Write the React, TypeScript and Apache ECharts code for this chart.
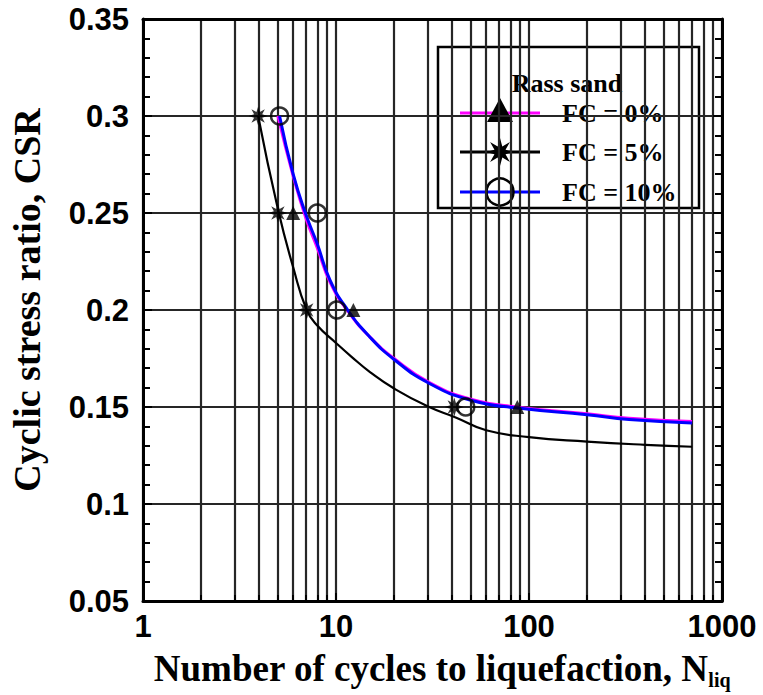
import React, { useEffect, useRef } from "react";
import * as echarts from "echarts";

// Axis ticks
const cycleTickLabels = ["1", "10", "100", "1000"];
const csrMin = 0.05;
const csrMax = 0.35;
const csrStep = 0.05;

// Cyclic triaxial test results: number of cycles and CSR
const fc0Cycles = [6, 12.3, 87];
const fc0Csr = [0.25, 0.2, 0.15];
const fc5Cycles = [3.95, 5, 7.05, 41];
const fc5Csr = [0.3, 0.25, 0.2, 0.15];
const fc10Cycles = [5.1, 8, 10.1, 47];
const fc10Csr = [0.3, 0.25, 0.2, 0.15];

// Trend curves through each data set
const fc0CurveCycles = [5, 6, 7, 8, 9.3, 11.5, 15, 20, 30, 50, 90, 200, 330, 700];
const fc0CurveCsr = [0.3, 0.269, 0.247, 0.232, 0.2145, 0.1995, 0.186, 0.175, 0.163, 0.154, 0.1498, 0.1465, 0.1442, 0.1425];
const fc5CurveCycles = [3.95, 5, 6, 7.05, 8, 10, 12, 15, 20, 30, 42, 60, 100, 200, 400, 700];
const fc5CurveCsr = [0.3, 0.252, 0.222, 0.2, 0.192, 0.183, 0.176, 0.168, 0.1595, 0.1502, 0.1445, 0.138, 0.1345, 0.1322, 0.1305, 0.1295];
const fc10CurveCycles = [5.1, 6, 7, 8, 9.3, 11.5, 15, 20, 30, 50, 90, 200, 330, 700];
const fc10CurveCsr = [0.3, 0.27, 0.249, 0.234, 0.2155, 0.2, 0.186, 0.1745, 0.1625, 0.1535, 0.1493, 0.146, 0.1435, 0.1418];

const zip = (xs: number[], ys: number[]) => xs.map((x, i) => [x, ys[i]]);

const SANS = "Liberation Sans, Arial, sans-serif";
const SERIF = "Liberation Serif, Times New Roman, serif";

// Eight-pointed star outline
function starPoints(cx: number, cy: number, R: number, r: number): number[][] {
  const pts: number[][] = [];
  for (let k = 0; k < 16; k++) {
    const a = (k * Math.PI) / 8;
    const rad = k % 2 === 0 ? R : r;
    pts.push([cx + rad * Math.sin(a), cy - rad * Math.cos(a)]);
  }
  return pts;
}
const starSymbol =
  "path://" +
  starPoints(10, 10, 10, 4.6)
    .map((p, i) => (i === 0 ? "M" : "L") + p[0].toFixed(2) + " " + p[1].toFixed(2))
    .join(" ") +
  " Z";

const GRID_COLOR = "#262626";

const option: any = {
  animation: false,
  backgroundColor: "#fff",
  grid: { left: 143, right: 41, top: 19, bottom: 94, containLabel: false, outerBoundsMode: "none" },
  xAxis: [
    {
      type: "log",
      logBase: 10,
      min: 1,
      max: 1000,
      position: "bottom",
      axisLine: { show: true, onZero: false, lineStyle: { color: "#000", width: 3 } },
      axisTick: { show: true, inside: true, length: 8, lineStyle: { color: "#000", width: 2 } },
      minorTick: { show: true, splitNumber: 9, length: 6, lineStyle: { color: "#000", width: 2 } },
      splitLine: { show: true, lineStyle: { color: GRID_COLOR, width: 2.2 } },
      minorSplitLine: { show: true, lineStyle: { color: GRID_COLOR, width: 2.2 } },
      axisLabel: {
        color: "#000",
        fontFamily: SANS,
        fontWeight: "bold",
        fontSize: 31,
        margin: 10,
        formatter: (v: number) => cycleTickLabels[Math.round(Math.log10(v))],
      },
    },
    {
      type: "log",
      logBase: 10,
      min: 1,
      max: 1000,
      position: "top",
      axisLine: { show: true, onZero: false, lineStyle: { color: "#000", width: 3 } },
      axisTick: { show: false },
      axisLabel: { show: false },
      splitLine: { show: false },
    },
  ],
  yAxis: [
    {
      type: "value",
      min: csrMin,
      max: csrMax,
      interval: csrStep,
      position: "left",
      axisLine: { show: true, lineStyle: { color: "#000", width: 3 } },
      axisTick: { show: true, inside: true, length: 9, lineStyle: { color: "#000", width: 2 } },
      minorTick: { show: true, splitNumber: 5, length: 7, lineStyle: { color: "#000", width: 2 } },
      splitLine: { show: true, lineStyle: { color: GRID_COLOR, width: 2.2 } },
      axisLabel: {
        color: "#000",
        fontFamily: SANS,
        fontWeight: "bold",
        fontSize: 31,
        margin: 14,
        formatter: (v: number) => String(+v.toFixed(2)),
      },
    },
    {
      type: "value",
      min: csrMin,
      max: csrMax,
      interval: csrStep,
      position: "right",
      axisLine: { show: true, lineStyle: { color: "#000", width: 3 } },
      axisTick: { show: true, inside: true, length: 9, lineStyle: { color: "#000", width: 2 } },
      minorTick: { show: true, splitNumber: 5, length: 7, lineStyle: { color: "#000", width: 2 } },
      splitLine: { show: false },
      axisLabel: { show: false },
    },
  ],
  series: [
    {
      type: "line",
      name: "FC = 5% curve",
      data: zip(fc5CurveCycles, fc5CurveCsr),
      smooth: true,
      showSymbol: false,
      symbol: "none",
      lineStyle: { color: "#000", width: 2.2 },
      z: 3,
    },
    {
      type: "line",
      name: "FC = 0% curve",
      data: zip(fc0CurveCycles, fc0CurveCsr),
      smooth: true,
      showSymbol: false,
      symbol: "none",
      lineStyle: { color: "#ff00ff", width: 3 },
      z: 3,
    },
    {
      type: "line",
      name: "FC = 10% curve",
      data: zip(fc10CurveCycles, fc10CurveCsr),
      smooth: true,
      showSymbol: false,
      symbol: "none",
      lineStyle: { color: "#0000ff", width: 3 },
      z: 4,
    },
    {
      type: "scatter",
      name: "FC = 0%",
      data: zip(fc0Cycles, fc0Csr),
      symbol: "triangle",
      symbolSize: 14,
      itemStyle: { color: "#000" },
      z: 6,
    },
    {
      type: "scatter",
      name: "FC = 5%",
      data: zip(fc5Cycles, fc5Csr),
      symbol: starSymbol,
      symbolSize: 19,
      itemStyle: { color: "#000" },
      z: 6,
    },
    {
      type: "scatter",
      name: "FC = 10%",
      data: zip(fc10Cycles, fc10Csr),
      symbol: "circle",
      symbolSize: 17,
      itemStyle: { color: "rgba(0,0,0,0)", borderColor: "#000", borderWidth: 2.5 },
      z: 6,
    },
  ],
  graphic: [
    {
      type: "text",
      x: 27,
      y: 300,
      rotation: Math.PI / 2,
      style: {
        text: "Cyclic stress ratio, CSR",
        fontFamily: SERIF,
        fontWeight: "bold",
        fontSize: 38,
        fill: "#000",
        align: "center",
        verticalAlign: "middle",
      },
    },
    {
      type: "text",
      x: 442,
      y: 668,
      style: {
        text: "{a|Number of cycles to liquefaction, N}{s|liq}",
        align: "center",
        verticalAlign: "middle",
        rich: {
          a: { fontFamily: SERIF, fontWeight: "bold", fontSize: 37, lineHeight: 44, fill: "#000" },
          s: { fontFamily: SERIF, fontWeight: "bold", fontSize: 20, lineHeight: 20, verticalAlign: "bottom", fill: "#000" },
        },
      },
    },
    {
      type: "group",
      z: 100,
      children: [
        {
          type: "rect",
          shape: { x: 438, y: 47, width: 261, height: 161 },
          style: { fill: "#fff", stroke: "#000", lineWidth: 2.5 },
        },
        {
          type: "text",
          x: 567,
          y: 83,
          style: {
            text: "Rass sand",
            fontFamily: SERIF,
            fontWeight: "bold",
            fontSize: 26,
            fill: "#000",
            align: "center",
            verticalAlign: "middle",
          },
        },
        { type: "line", shape: { x1: 460, y1: 113, x2: 540, y2: 113 }, style: { stroke: "#ff00ff", lineWidth: 3 } },
        { type: "polygon", shape: { points: [[500, 98], [513, 122], [487, 122]] }, style: { fill: "#000" } },
        { type: "line", shape: { x1: 460, y1: 152, x2: 540, y2: 152 }, style: { stroke: "#000", lineWidth: 3 } },
        { type: "polygon", shape: { points: starPoints(500, 152, 14, 6) }, style: { fill: "#000" } },
        { type: "line", shape: { x1: 460, y1: 192, x2: 540, y2: 192 }, style: { stroke: "#0000ff", lineWidth: 3 } },
        { type: "circle", shape: { cx: 500, cy: 192, r: 13.5 }, style: { fill: "none", stroke: "#000", lineWidth: 2.5 } },
        ...[
          ["FC = 0%", 113],
          ["FC = 5%", 152],
          ["FC = 10%", 192],
        ].map(([t, y]) => ({
          type: "text",
          x: 562,
          y: y as number,
          style: {
            text: t as string,
            fontFamily: SERIF,
            fontWeight: "bold",
            fontSize: 26,
            fill: "#000",
            align: "left",
            verticalAlign: "middle",
          },
        })),
      ],
    },
  ],
};

export default function App() {
  const ref = useRef<HTMLDivElement>(null);
  useEffect(() => {
    const chart = echarts.init(ref.current!, null, { renderer: "svg" });
    chart.setOption(option);
    return () => chart.dispose();
  }, []);
  return (
    <div
      ref={ref}
      style={{ position: "fixed", left: 0, top: 0, width: 763, height: 695, background: "#fff" }}
    />
  );
}
